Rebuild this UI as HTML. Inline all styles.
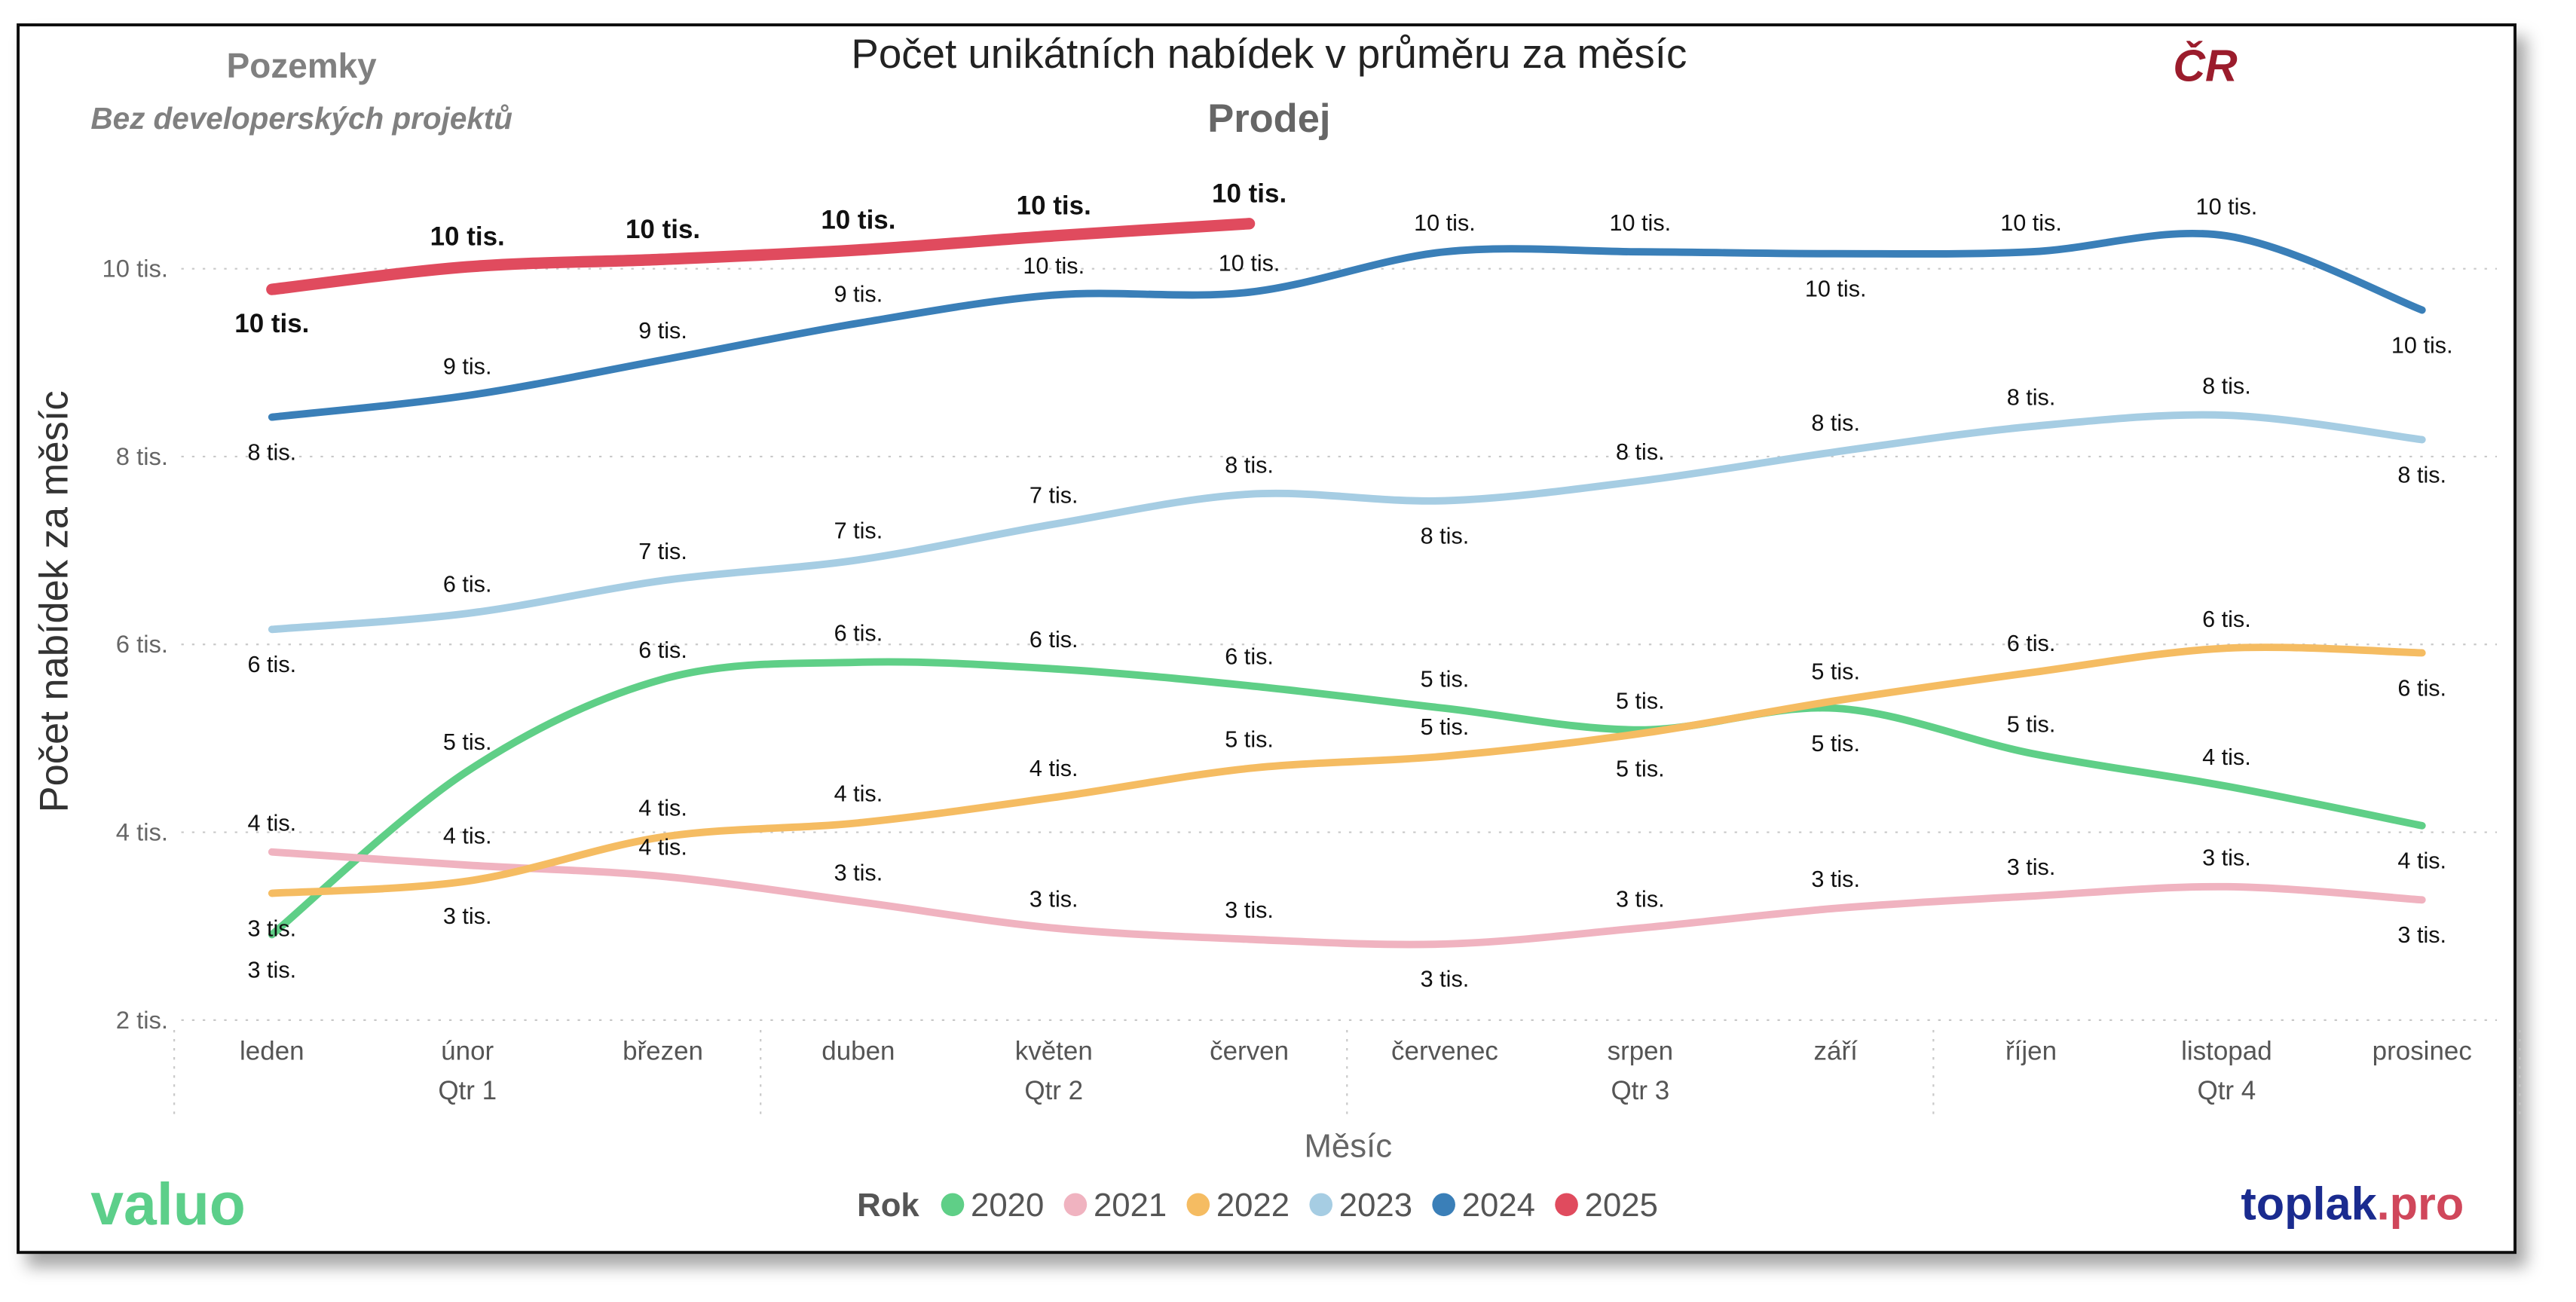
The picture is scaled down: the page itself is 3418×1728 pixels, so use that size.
<!DOCTYPE html>
<html><head><meta charset="utf-8"><style>
html,body{margin:0;padding:0;background:#fff;}
svg{display:block;font-family:"Liberation Sans",sans-serif;}
</style></head><body>
<svg id="chart" width="3418" height="1728" viewBox="0 0 1563 790" xmlns="http://www.w3.org/2000/svg">
<defs><filter id="sh" x="-5%" y="-5%" width="110%" height="115%"><feDropShadow dx="6" dy="8" stdDeviation="5" flood-color="#000" flood-opacity="0.35"/></filter></defs>
<rect x="11" y="15" width="1515" height="745" fill="#fff" stroke="#111" stroke-width="1.8" filter="url(#sh)"/>
<text x="183" y="47" text-anchor="middle" font-size="21" font-weight="bold" fill="#808080">Pozemky</text>
<text x="183" y="78" text-anchor="middle" font-size="18.5" font-weight="bold" font-style="italic" fill="#808080">Bez developerských projektů</text>
<text x="770" y="41" text-anchor="middle" font-size="25" fill="#222">Počet unikátních nabídek v průměru za měsíc</text>
<text x="770" y="80" text-anchor="middle" font-size="24" font-weight="bold" fill="#666">Prodej</text>
<text x="1338" y="49" text-anchor="middle" font-size="27" font-weight="bold" font-style="italic" fill="#9b1c2c">ČR</text>
<text transform="translate(41,365) rotate(-90)" text-anchor="middle" font-size="24" fill="#333">Počet nabídek za měsíc</text>
<text x="818" y="702" text-anchor="middle" font-size="20" fill="#666">Měsíc</text>
<g id="grid"></g><g id="lines"></g><g id="labels"></g><g id="xaxis"></g>
<text x="55" y="743" font-size="36" font-weight="bold" fill="#5ccf8a" letter-spacing="0">valuo</text>
<text x="1495" y="740" text-anchor="end" font-size="28" font-weight="bold"><tspan fill="#1a2b8f">toplak</tspan><tspan fill="#d0475b">.pro</tspan></text>
<g id="legend"></g>
</svg>
<script>
const months=["leden","únor","březen","duben","květen","červen","červenec","srpen","září","říjen","listopad","prosinec"];
const quarters=["Qtr 1","Qtr 2","Qtr 3","Qtr 4"];
const yTicks=[2000,4000,6000,8000,10000];
const yTickLabels=["2 tis.","4 tis.","6 tis.","8 tis.","10 tis."];
const years=["2020","2021","2022","2023","2024","2025"];
const colors=["#5fcf87","#f0b3c0","#f5bc62","#a6cde3","#3a7fb8","#e04b5e"];
const s2020=[2910,4650,5630,5810,5740,5560,5320,5090,5320,4840,4490,4070];
const s2021=[3790,3650,3530,3260,2980,2860,2810,2980,3190,3320,3420,3280];
const s2022=[3350,3480,3950,4100,4370,4680,4810,5050,5400,5700,5960,5910];
const s2023=[6160,6330,6680,6900,7280,7600,7530,7740,8050,8320,8440,8180];
const s2024=[8420,8650,9030,9420,9720,9750,10180,10180,10160,10180,10350,9560];
const s2025=[9780,10020,10100,10200,10350,10480];
const p2020=[-1,1,1,1,1,1,1,1,-1,1,1,-1];
const p2021=[1,1,1,1,1,1,-1,1,1,1,1,-1];
const p2022=[-1,-1,1,1,1,1,1,-1,1,1,1,-1];
const p2023=[-1,1,1,1,1,1,-1,1,1,1,1,-1];
const p2024=[-1,1,1,1,1,1,1,1,-1,1,1,-1];
const p2025=[-1,1,1,1,1,1];
const series=[s2020,s2021,s2022,s2023,s2024,s2025];
const places=[p2020,p2021,p2022,p2023,p2024,p2025];
const NS="http://www.w3.org/2000/svg";
const X0=165,XS=118.6,Y0=619,YK=0.057;
const xS=i=>X0+i*XS, yS=v=>Y0-(v-2000)*YK;
function mk(t,a,p,txt){const e=document.createElementNS(NS,t);for(const k in a)e.setAttribute(k,a[k]);if(txt!=null)e.textContent=txt;p.appendChild(e);return e;}
const grid=document.getElementById('grid');
yTicks.forEach((v,i)=>{
 const l=mk('line',{x1:110,x2:1515,y1:yS(v),y2:yS(v),stroke:'#c8c8c8','stroke-width':1,'stroke-dasharray':'1.5 5'},grid);
 
 
 const t=mk('text',{x:102,y:yS(v)+5,'text-anchor':'end','font-size':15,fill:'#666'},grid,yTickLabels[i]);
 
 
});
const xa=document.getElementById('xaxis');
months.forEach((m,i)=>{
 const t=mk('text',{x:xS(i),y:643,'text-anchor':'middle','font-size':16,fill:'#555'},xa,m);
 
 
});
quarters.forEach((q,i)=>{
 const t=mk('text',{x:xS(i*3+1),y:667,'text-anchor':'middle','font-size':16,fill:'#555'},xa,q);
 
 
});
for(let i=0;i<=4;i++){const x=xS(i*3)-XS/2;
 const l=mk('line',{x1:x,x2:x,y1:625,y2:678,stroke:'#c8c8c8','stroke-width':1,'stroke-dasharray':'1.5 4'},xa);
 
 }
function smooth(pts){let d=`M${pts[0][0]},${pts[0][1]}`;
 for(let i=0;i<pts.length-1;i++){const p0=pts[i-1]||pts[i],p1=pts[i],p2=pts[i+1],p3=pts[i+2]||p2;
  const c1=[p1[0]+(p2[0]-p0[0])/6,p1[1]+(p2[1]-p0[1])/6],c2=[p2[0]-(p3[0]-p1[0])/6,p2[1]-(p3[1]-p1[1])/6];
  d+=`C${c1[0]},${c1[1]} ${c2[0]},${c2[1]} ${p2[0]},${p2[1]}`;}return d;}
const lg=document.getElementById('lines'),lb=document.getElementById('labels');
series.forEach((s,k)=>{
 const bold=years[k]==="2025";
 const path=mk('path',{d:smooth(s.map((v,i)=>[xS(i),yS(v)])),fill:'none',stroke:colors[k],'stroke-width':bold?7:4.5,'stroke-linecap':'round'},lg);
 
 
 s.forEach((v,i)=>{
  const y=places[k][i]>0?yS(v)-13:yS(v)+26;
  const t=mk('text',{x:xS(i),y:y,'text-anchor':'middle','font-size':bold?16:14,'font-weight':bold?'bold':'normal',fill:'#111'},lb,Math.round(v/1000)+' tis.');
  
  
 });
});
const leg=document.getElementById('legend');
const rk=mk('text',{x:520,y:738,'font-size':20,'font-weight':'bold',fill:'#555'},leg,'Rok');


years.forEach((y,k)=>{const x=578+k*74.5;
 const c=mk('circle',{cx:x,cy:731,r:7,fill:colors[k]},leg);
 
 
 const t=mk('text',{x:x+11,y:738,'font-size':20,fill:'#555'},leg,y);
 
 
});
</script>
</body></html>
